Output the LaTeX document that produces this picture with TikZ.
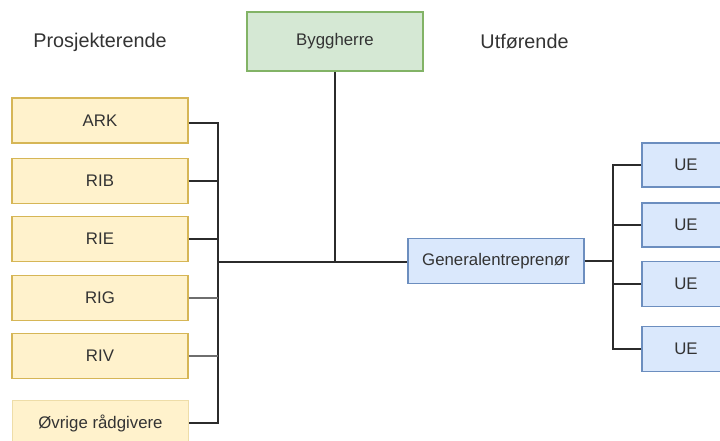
\documentclass[tikz,border=0pt]{standalone}
\usepackage{fontspec}
\setmainfont{Liberation Sans}
\definecolor{txt}{HTML}{333333}
\definecolor{yfill}{HTML}{FFF2CC}
\definecolor{ydraw}{HTML}{D6B656}
\definecolor{ylight}{HTML}{EEDDA8}
\definecolor{gfill}{HTML}{D5E8D4}
\definecolor{gdraw}{HTML}{82B366}
\definecolor{bfill}{HTML}{DAE8FC}
\definecolor{bdraw}{HTML}{6C8EBF}
\definecolor{wire}{HTML}{2B2B2B}
\definecolor{wiregray}{HTML}{6E6E6E}
\tikzset{
  box/.style={rectangle, draw, line width=1.2pt, minimum width=176pt, minimum height=45pt,
    inner sep=0pt, text=txt, font=\fontsize{16.8}{20}\selectfont},
  consult/.style={box, fill=yfill, draw=ydraw},
  owner/.style={box, fill=gfill, draw=gdraw, minimum height=59pt},
  contractor/.style={box, fill=bfill, draw=bdraw},
  heading/.style={text=txt, font=\fontsize{19.8}{24}\selectfont, inner sep=0pt},
  wireline/.style={draw=wire, line width=1.5pt},
  wiresoft/.style={draw=wiregray, line width=1.5pt}
}
\begin{document}
\begin{tikzpicture}[x=1pt, y=-1pt]
\useasboundingbox (0,0) rectangle (720,441);
\clip (0,0) rectangle (720,441);

% headings
\node[heading] (hleft) at (100,42) {Prosjekterende};
\node[heading] (hright) at (524.5,42) {Utførende};

% client
\node[owner] (byg) at (335,41.5) {Byggherre};

% consultants
\node[consult] (ark) at (100,120.5) {ARK};
\node[consult] (rib) at (100,181) {RIB};
\node[consult] (rie) at (100,239) {RIE};
\node[consult] (rig) at (100,298) {RIG};
\node[consult] (riv) at (100,356) {RIV};
\node[consult, draw=ylight] (ovr) at (100.5,423) {Øvrige rådgivere};

% contractors
\node[contractor] (ge) at (496,261) {Generalentreprenør};
\node[contractor, minimum width=88pt, minimum height=44pt] (ue1) at (686,165) {UE};
\node[contractor, minimum width=88pt, minimum height=44pt] (ue2) at (686,225) {UE};
\node[contractor, minimum width=88pt, minimum height=45pt] (ue3) at (686,284) {UE};
\node[contractor, minimum width=88pt, minimum height=45pt] (ue4) at (686,349) {UE};

% junction points of the buses
\coordinate (lbus) at (218,262);
\coordinate (rbus) at (613,261);

% consultant bus
\draw[wireline] ([yshift=-2.5pt]ark.east) -| (lbus);
\draw[wireline] (rib.east) -| (lbus);
\draw[wireline] (rie.east) -| (lbus);
\draw[wireline] (ovr.east) -| (lbus);
\draw[wiresoft] (rig.east) -- (rig.east -| lbus);
\draw[wiresoft] (riv.east) -- (riv.east -| lbus);

% main line and client
\draw[wireline] (lbus) -- (lbus -| ge.west);
\draw[wireline] (byg.south) -- (byg.south |- lbus);

% sub-contractor bus
\draw[wireline] (ge.east) -- (rbus);
\draw[wireline] (ue1.west) -| (rbus);
\draw[wireline] (ue2.west) -| (rbus);
\draw[wireline] (ue3.west) -| (rbus);
\draw[wireline] (ue4.west) -| (rbus);
\end{tikzpicture}
\end{document}
